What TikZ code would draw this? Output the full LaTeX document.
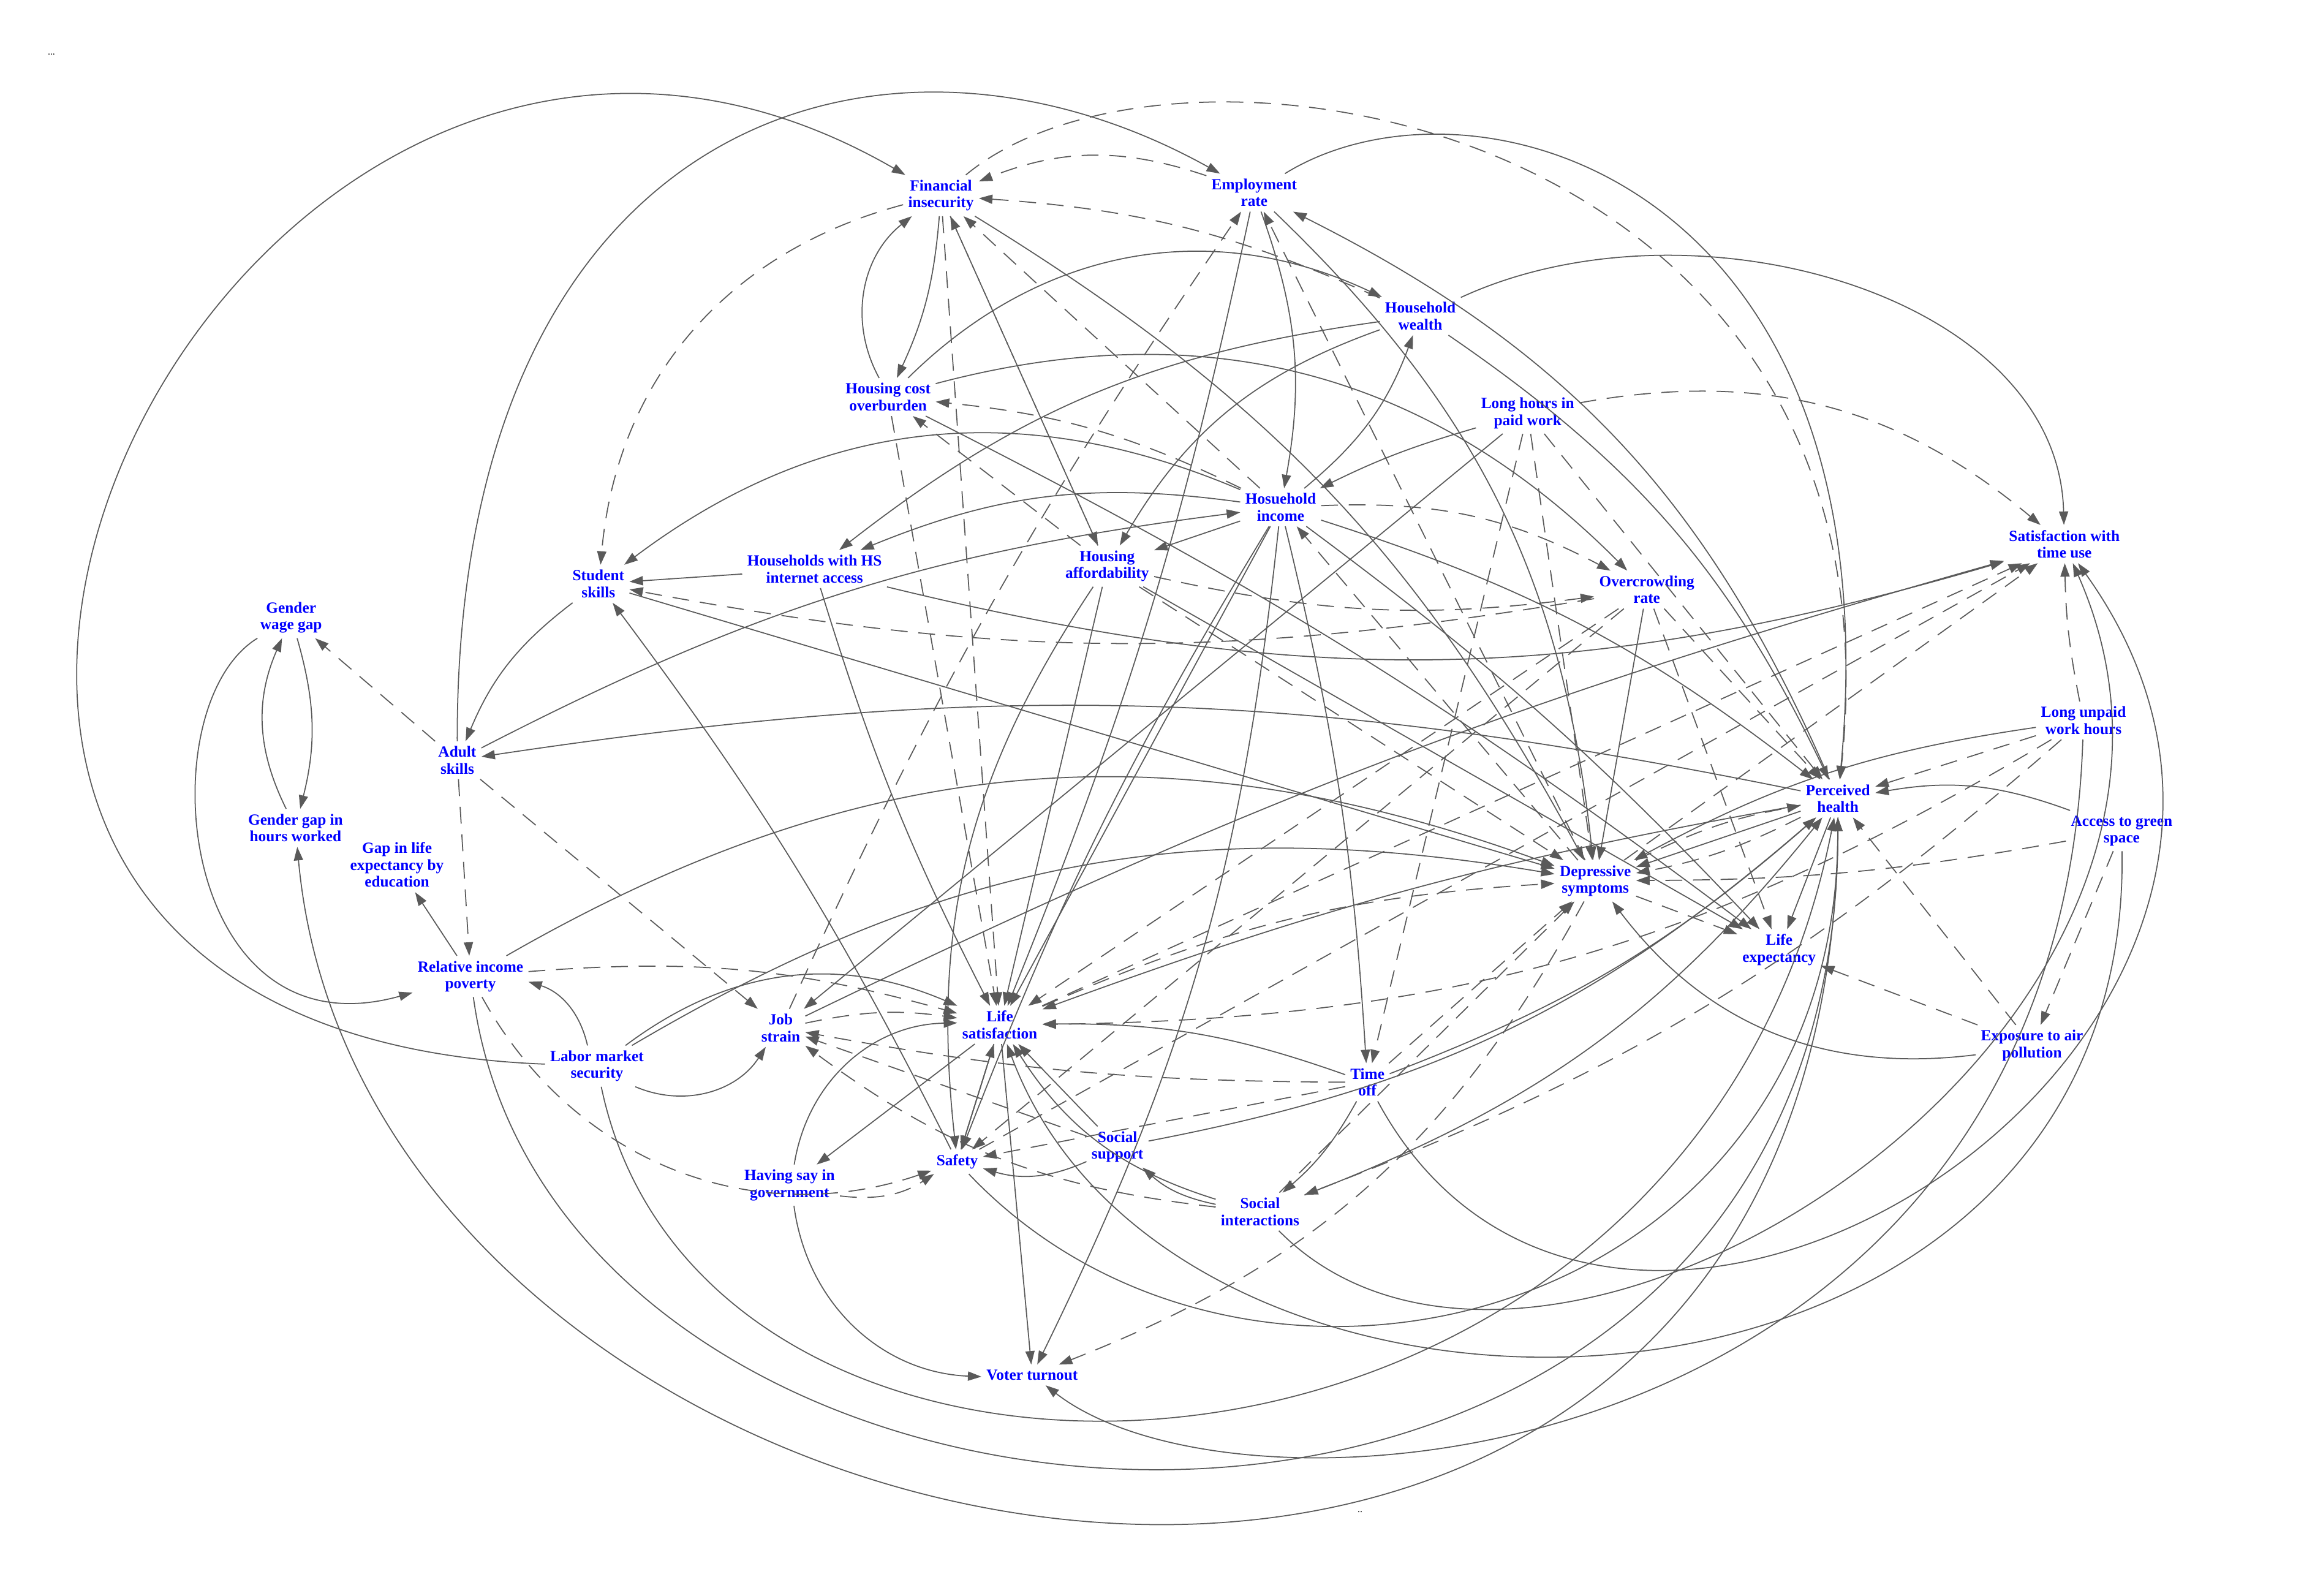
\documentclass[tikz,border=0pt]{standalone}
\usepackage{fontspec}
\setmainfont{Liberation Serif}
\usetikzlibrary{arrows.meta}
\definecolor{ec}{HTML}{5A5A5A}
\begin{document}
\begin{tikzpicture}[x=0.012cm,y=0.012cm,
 n/.style={text=blue,align=center,font=\fontsize{3.6pt}{3.9pt}\selectfont\bfseries,inner sep=1pt},
 e/.style={draw=ec,line width=0.25pt,-{Triangle[length=0.11cm,width=0.075cm]},fill=none},
 d/.style={e,dash pattern=on 0.1375cm off 0.0875cm}]
\useasboundingbox (0,0) rectangle (1567,-1085);
\node[font=\fontsize{2.25pt}{2.5pt}\selectfont] (dots1) at (35,-37) {...};
\node[font=\fontsize{2.25pt}{2.5pt}\selectfont] (dots2) at (925,-1028) {..};
\node[n] (FI) at (640,-133) {Financial\\insecurity};
\node[n] (ER) at (853,-131) {Employment\\rate};
\node[n] (HW) at (966,-215) {Household\\wealth};
\node[n] (HC) at (604,-270) {Housing cost\\overburden};
\node[n] (LH) at (1039,-281) {Long hours in\\paid work};
\node[n] (HI) at (871,-345) {Hosuehold\\income};
\node[n] (ST) at (1404,-370) {Satisfaction with\\time use};
\node[n] (SS) at (407,-397) {Student\\skills};
\node[n] (HS) at (554,-387) {Households with HS\\internet access};
\node[n] (HA) at (753,-385) {Housing\\affordability};
\node[n] (OC) at (1120,-401) {Overcrowding\\rate};
\node[n] (GW) at (198,-420) {Gender\\wage gap};
\node[n] (AS) at (311,-517) {Adult\\skills};
\node[n] (LU) at (1417,-490) {Long unpaid\\work hours};
\node[n] (PH) at (1250,-543) {Perceived\\health};
\node[n] (GH) at (201,-563) {Gender gap in\\hours worked};
\node[n] (GL) at (270,-588) {Gap in life\\expectancy by\\education};
\node[n] (AG) at (1443,-565) {Access to green\\space};
\node[n] (DS) at (1085,-599) {Depressive\\symptoms};
\node[n] (RP) at (320,-664) {Relative income\\poverty};
\node[n] (LE) at (1210,-646) {Life\\expectancy};
\node[n] (LS) at (680,-697) {Life\\satisfaction};
\node[n] (JS) at (531,-699) {Job\\strain};
\node[n] (LM) at (406,-725) {Labor market\\security};
\node[n] (EA) at (1382,-711) {Exposure to air\\pollution};
\node[n] (TO) at (930,-736) {Time\\off};
\node[n] (SU) at (760,-780) {Social\\support};
\node[n] (SA) at (651,-790) {Safety};
\node[n] (HG) at (537,-806) {Having say in\\government};
\node[n] (SI) at (857,-824) {Social\\interactions};
\node[n] (VT) at (702,-935) {Voter turnout};
% solid
\draw[e] (LM) .. controls (-250,-700) and (150,150) .. (FI);
\draw[e] (AS) .. controls (310,-80) and (600,10) .. (ER);
\draw[e] (ER) .. controls (1000,-40) and (1290,-120) .. (PH);
\draw[e] (HW) .. controls (1150,-130) and (1400,-200) .. (ST);
\draw[e] (HC) to[bend left=40] (FI);
\draw[e] (FI) to[bend left=10] (HC);
\draw[e] (HC) to[bend left=35] (HW);
\draw[e] (HC) to[bend left=30] (OC);
\draw[e] (HW) to[bend right=15] (HS);
\draw[e] (HW) to[bend right=20] (HA);
\draw[e] (HW) to[bend left=15] (PH);
\draw[e] (HI) to[bend right=15] (HW);
\draw[e] (LH) to[bend right=5] (HI);
\draw[e] (ER) to[bend left=15] (HI);
\draw[e] (ER) to[bend left=5] (LS);
\draw[e] (ER) to[bend left=20] (DS);
\draw[e] (PH) to[bend right=20] (ER);
\draw[e] (FI) to[bend left=15] (DS);
\draw[e] (HI) to[bend right=30] (SS);
\draw[e] (HI) to[bend right=15] (HS);
\draw[e] (AS) to[bend left=10] (HI);
\draw[e] (HI) -- (HA);
\draw[e] (HI) to[bend left=10] (PH);
\draw[e] (HI) to[bend left=5] (LE);
\draw[e] (HI) -- (LS);
\draw[e] (HI) to[bend right=5] (SA);
\draw[e] (HI) to[bend left=10] (VT);
\draw[e] (HI) to[bend left=5] (TO);
\draw[e] (HC) to[bend left=5] (LE);
\draw[e] (HS) -- (SS);
\draw[e] (HS) to[bend right=5] (LS);
\draw[e] (HS) to[bend right=15] (ST);
\draw[e] (HA) -- (LE);
\draw[e] (HA) -- (LS);
\draw[e] (HA) to[bend right=20] (SA);
\draw[e] (OC) -- (DS);
\draw[e] (LH) -- (JS);
\draw[e] (PH) to[bend right=10] (AS);
\draw[e] (SS) to[bend right=15] (AS);
\draw[e] (GW) to[bend left=15] (GH);
\draw[e] (GH) to[bend left=25] (GW);
\draw[e] (GW) .. controls (100,-480) and (120,-720) .. (RP);
\draw[e] (RP) -- (GL);
\draw[e] (RP) to[bend left=25] (DS);
\draw[e] (LM) to[bend right=30] (RP);
\draw[e] (LM) to[bend right=40] (JS);
\draw[e] (LM) to[bend left=30] (LS);
\draw[e] (LM) to[bend left=20] (DS);
\draw[e] (LM) .. controls (480,-1080) and (1150,-1050) .. (PH);
\draw[e] (RP) .. controls (380,-1100) and (1250,-1150) .. (PH);
\draw[e] (PH) .. controls (1250,-1280) and (250,-1100) .. (GH);
\draw[e] (LU) to[bend right=10] (DS);
\draw[e] (AG) to[bend right=15] (PH);
\draw[e] (EA) to[bend left=30] (DS);
\draw[e] (PH) -- (LE);
\draw[e] (PH) to[bend right=5] (LS);
\draw[e] (PH) -- (DS);
\draw[e] (SS) -- (DS);
\draw[e] (LS) -- (HG);
\draw[e] (LS) -- (VT);
\draw[e] (LS) -- (SA);
\draw[e] (SA) -- (LS);
\draw[e] (SU) to[bend left=20] (SA);
\draw[e] (SU) -- (LS);
\draw[e] (SU) to[bend right=15] (PH);
\draw[e] (SI) to[bend left=15] (SU);
\draw[e] (SI) to[bend left=20] (LS);
\draw[e] (SI) to[bend right=15] (PH);
\draw[e] (TO) to[bend right=10] (LS);
\draw[e] (TO) to[bend left=10] (SI);
\draw[e] (TO) to[bend right=10] (PH);
\draw[e] (HG) to[bend right=40] (VT);
\draw[e] (HG) to[bend left=40] (LS);
\draw[e] (SA) .. controls (850,-1000) and (1250,-900) .. (PH);
\draw[e] (SA) to[bend right=5] (SS);
\draw[e] (SI) .. controls (1050,-1020) and (1550,-700) .. (ST);
\draw[e] (TO) .. controls (1100,-1050) and (1640,-700) .. (ST);
\draw[e] (JS) to[bend left=5] (ST);
\draw[e] (LU) .. controls (1400,-1000) and (850,-1050) .. (VT);
\draw[e] (AG) .. controls (1450,-1000) and (800,-1020) .. (LS);
% dashed
\draw[d] (ER) to[bend right=20] (FI);
\draw[d] (HW) to[bend right=10] (FI);
\draw[d] (FI) to[bend right=35] (SS);
\draw[d] (FI) -- (HA);
\draw[d] (FI) -- (LS);
\draw[d] (FI) .. controls (800,0) and (1300,-80) .. (PH);
\draw[d] (HA) -- (FI);
\draw[d] (HI) -- (FI);
\draw[d] (HI) to[bend right=10] (HC);
\draw[d] (HA) -- (HC);
\draw[d] (JS) to[bend left=5] (ER);
\draw[d] (DS) -- (ER);
\draw[d] (HC) -- (LS);
\draw[d] (HI) to[bend left=15] (OC);
\draw[d] (HA) to[bend right=10] (OC);
\draw[d] (HA) -- (DS);
\draw[d] (OC) to[bend left=10] (SS);
\draw[d] (OC) -- (LE);
\draw[d] (OC) -- (LS);
\draw[d] (OC) -- (SA);
\draw[d] (OC) -- (PH);
\draw[d] (LH) to[bend left=25] (ST);
\draw[d] (LH) -- (PH);
\draw[d] (LH) -- (TO);
\draw[d] (LH) -- (DS);
\draw[d] (LS) -- (ST);
\draw[d] (SA) -- (ST);
\draw[d] (DS) -- (ST);
\draw[d] (LU) to[bend left=5] (ST);
\draw[d] (LU) -- (PH);
\draw[d] (LU) to[bend left=10] (SI);
\draw[d] (LU) to[bend left=15] (LS);
\draw[d] (AG) to[bend left=5] (DS);
\draw[d] (AG) -- (EA);
\draw[d] (EA) -- (PH);
\draw[d] (EA) -- (LE);
\draw[d] (PH) to[bend left=8] (DS);
\draw[d] (DS) to[bend left=8] (PH);
\draw[d] (DS) -- (LE);
\draw[d] (DS) to[bend left=20] (VT);
\draw[d] (DS) -- (HI);
\draw[d] (JS) to[bend left=10] (LS);
\draw[d] (AS) -- (GW);
\draw[d] (AS) -- (RP);
\draw[d] (AS) -- (JS);
\draw[d] (RP) to[bend left=10] (LS);
\draw[d] (RP) to[bend right=40] (SA);
\draw[d] (SU) -- (JS);
\draw[d] (SI) to[bend left=15] (JS);
\draw[d] (TO) to[bend left=5] (JS);
\draw[d] (TO) -- (SA);
\draw[d] (TO) -- (DS);
\draw[d] (SI) -- (DS);
\draw[d] (HG) to[bend right=20] (SA);
\draw[d] (LS) to[bend left=10] (DS);
\end{tikzpicture}
\end{document}
